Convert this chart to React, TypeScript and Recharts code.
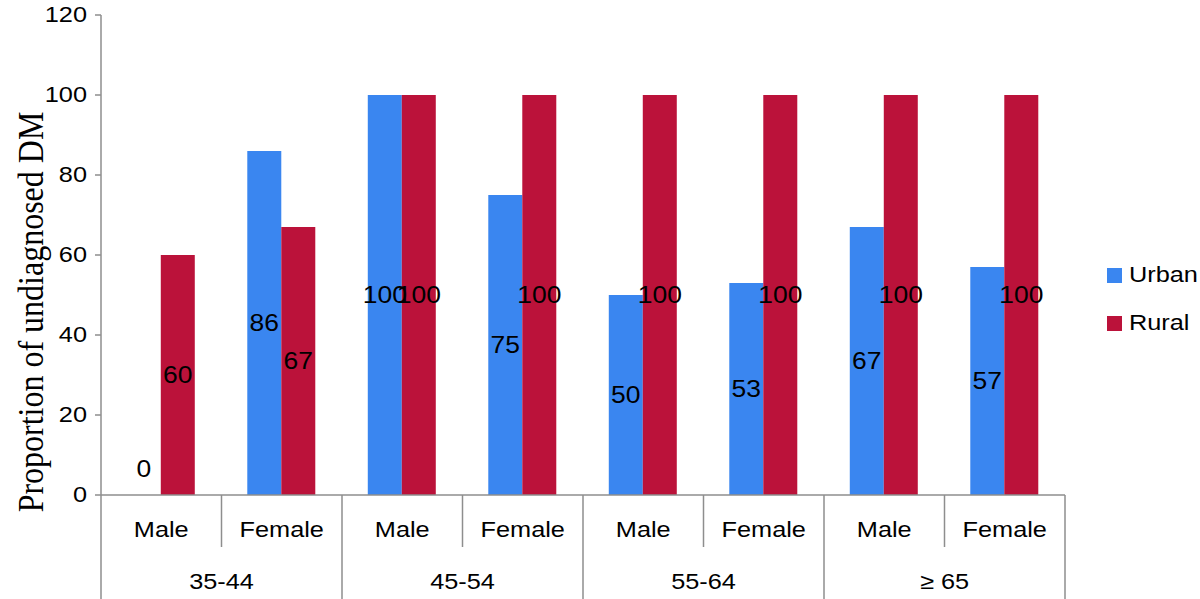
import { BarChart, Bar, XAxis, YAxis, Legend, LabelList } from "recharts";

const ageGroups = ["35-44", "45-54", "55-64", "≥ 65"];
const sexes = ["Male", "Female"];
const urbanValues = [0, 86, 100, 75, 50, 53, 67, 57];
const ruralValues = [60, 67, 100, 100, 100, 100, 100, 100];
const yTicks = [0, 20, 40, 60, 80, 100, 120];

const URBAN = "#3A86F0";
const RURAL = "#BB123A";
const GRID = "#8E8E8E";
const SANS = "'Liberation Sans', Arial, sans-serif";
const STRETCH = 1.15; // the source text is a little wider than Liberation Sans

const data = ageGroups.flatMap((age, i) =>
  sexes.map((sex, j) => ({
    key: `${age} ${sex}`,
    age,
    sex,
    urban: urbanValues[i * 2 + j],
    rural: ruralValues[i * 2 + j],
  }))
);

function WideText({ x, y, size = 22, anchor = "middle", children }: any) {
  return (
    <text
      transform={`translate(${x},${y}) scale(${STRETCH},1)`}
      textAnchor={anchor}
      dominantBaseline="central"
      fontFamily={SANS}
      fontSize={size}
      fill="#000"
    >
      {children}
    </text>
  );
}

function CategoryTick(props: any) {
  const { x, y, index, width, visibleTicksCount } = props;
  const bw = width / visibleTicksCount;
  const left = x - bw / 2;
  const row = data[index];
  const groupStart = index % 2 === 0;
  return (
    <g>
      <line
        x1={left}
        y1={y}
        x2={left}
        y2={y + (groupStart ? 110 : 52)}
        stroke={GRID}
        strokeWidth={1.5}
      />
      {index === data.length - 1 && (
        <line x1={left + bw} y1={y} x2={left + bw} y2={y + 110} stroke={GRID} strokeWidth={1.5} />
      )}
      <WideText x={x} y={y + 35}>{row.sex}</WideText>
      {groupStart && <WideText x={left + bw} y={y + 87}>{row.age}</WideText>}
    </g>
  );
}

function ValueTick(props: any) {
  const { x, y, payload } = props;
  return (
    <WideText x={x} y={y} anchor="end">
      {payload.value}
    </WideText>
  );
}

function BarValue(props: any) {
  const { x, y, width, height, value } = props;
  const cy = value === 0 ? y + height - 26 : y + height / 2;
  return (
    <WideText x={x + width / 2} y={cy} size={23}>
      {value}
    </WideText>
  );
}

function LegendBox() {
  const items = [
    { name: "Urban", color: URBAN },
    { name: "Rural", color: RURAL },
  ];
  return (
    <div style={{ fontFamily: SANS, fontSize: 22 }}>
      {items.map((it) => (
        <div key={it.name} style={{ display: "flex", alignItems: "center", height: 48 }}>
          <span
            style={{ display: "inline-block", width: 15, height: 15, background: it.color, marginRight: 7 }}
          />
          <span style={{ display: "inline-block", transform: `scaleX(${STRETCH})`, transformOrigin: "left center" }}>
            {it.name}
          </span>
        </div>
      ))}
    </div>
  );
}

export default function App() {
  return (
    <div style={{ position: "absolute", left: 0, top: 0, width: 1200, height: 599, background: "#fff" }}>
      <BarChart
        width={1200}
        height={599}
        data={data}
        margin={{ top: 15, right: 135, bottom: 0, left: 0 }}
        barCategoryGap="21.4%"
        barGap={0}
      >
        <XAxis
          dataKey="key"
          height={104}
          interval={0}
          tickSize={0}
          tickMargin={0}
          tickLine={false}
          axisLine={{ stroke: GRID, strokeWidth: 1.5 }}
          tick={<CategoryTick />}
        />
        <YAxis
          width={101}
          domain={[0, 120]}
          ticks={yTicks}
          interval={0}
          tickSize={6}
          tickMargin={8}
          axisLine={{ stroke: GRID, strokeWidth: 1.5 }}
          tickLine={{ stroke: GRID, strokeWidth: 1.5 }}
          tick={<ValueTick />}
          label={{
            content: () => (
              <text
                transform="translate(31,312) rotate(-90) scale(1,1.1)"
                textAnchor="middle"
                dominantBaseline="central"
                fontFamily="'Liberation Serif', 'Times New Roman', serif"
                fontSize={32}
                fill="#000"
              >
                Proportion of undiagnosed DM
              </text>
            ),
          }}
        />
        <Legend
          layout="vertical"
          align="center"
          verticalAlign="middle"
          content={() => <LegendBox />}
          wrapperStyle={{ left: 1107, top: 251, width: 90 }}
        />
        <Bar
          dataKey="urban"
          name="Urban"
          fill={URBAN}
          minPointSize={(v: number) => (v === 0 ? 0.01 : 0)}
          isAnimationActive={false}
        >
          <LabelList dataKey="urban" content={<BarValue />} />
        </Bar>
        <Bar dataKey="rural" name="Rural" fill={RURAL} isAnimationActive={false}>
          <LabelList dataKey="rural" content={<BarValue />} />
        </Bar>
      </BarChart>
    </div>
  );
}
